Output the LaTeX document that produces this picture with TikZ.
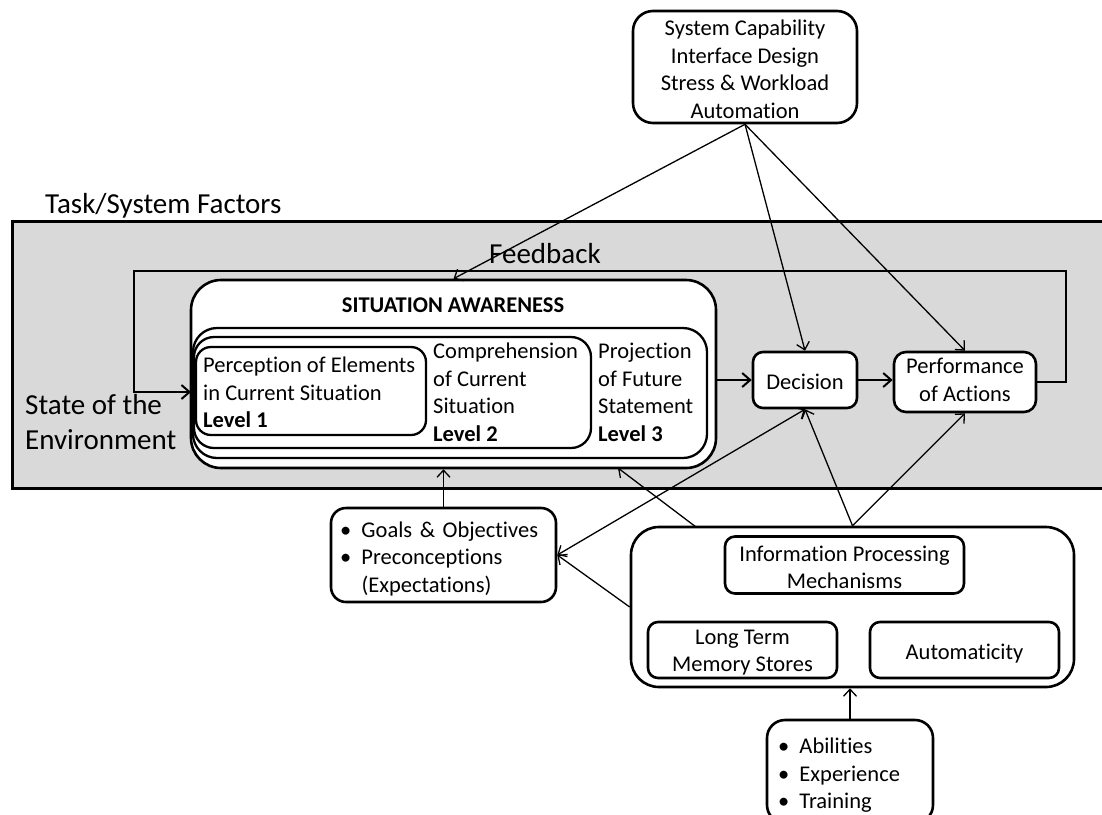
\documentclass[tikz,border=0pt]{standalone}
\usepackage{fontspec}
\setmainfont{Carlito}[Ligatures=NoCommon]
\usetikzlibrary{arrows.meta}
\definecolor{envgray}{RGB}{217,217,217}
\newcommand\fmid{\fontsize{22.5}{27.5}\selectfont}
\newcommand\fbig{\fontsize{29}{35}\selectfont}
\newcommand\bul{\makebox[21.5pt][l]{\textbullet}}
\newcommand\mystrut{\rule[-4pt]{0pt}{27.5pt}}
\begin{document}
\begin{tikzpicture}[x=1pt,y=-1pt,
  box/.style={draw=black, line width=2.6pt, fill=white, inner sep=0pt, font=\fmid, align=center,
    execute at begin node=\mystrut, execute at end node=\mystrut},
  lvlbox/.style={box, line width=2.3pt},
  txt/.style={inner sep=0pt, font=\fmid, align=left, anchor=north west,
    execute at begin node=\mystrut, execute at end node=\mystrut},
  ctxt/.style={inner sep=0pt, font=\fmid, align=center,
    execute at begin node=\mystrut, execute at end node=\mystrut},
  big/.style={inner sep=0pt, font=\fbig, align=left, anchor=north west,
    execute at begin node=\strut, execute at end node=\strut},
  lbl/.style={inner sep=0pt},
  conn/.style={line width=1.3pt, -{Straight Barb[length=7pt,width=13pt]}},
  bothconn/.style={line width=1.3pt, {Straight Barb[length=7pt,width=13pt]}-{Straight Barb[length=7pt,width=13pt]}},
  thickconn/.style={line width=2pt, -{Straight Barb[length=8pt,width=14pt]}},
]
\fill[white] (0,0) rectangle (1102,814);
\useasboundingbox (0,0) rectangle (1102,814);
\clip (0,0) rectangle (1102,814);

% top factors box
\node[box, rounded corners=20pt, minimum width=224pt, minimum height=112pt] (top) at (745,67) {};
\node[ctxt] (toptext) at (745,71)
  {System Capability\\Interface Design\\Stress \& Workload\\Automation};

\node[lbl, font=\fbig, anchor=base west] (task) at (45,213) {Task/System Factors};

% environment area
\node[draw=black, line width=3pt, fill=envgray, minimum width=1103pt, minimum height=267pt, inner sep=0pt] (env) at (563.5,354.5) {};

\node[lbl, font=\fbig, anchor=base west] (fbtext) at (489,263) {Feedback};
\node[big] (state) at (25,394.5) {State of the\\Environment};

\coordinate (fbR) at (1066,271);
\coordinate (fbL) at (134,271);
\coordinate (fbIn) at (191,392);

% situation awareness
\node[box, rounded corners=30pt, minimum width=525pt, minimum height=188pt] (sa) at (453.5,374) {};
\node[lvlbox, rounded corners=24pt, minimum width=514pt, minimum height=130pt] (l3) at (450,393) {};
\node[lvlbox, rounded corners=20pt, minimum width=397pt, minimum height=111pt] (l2) at (392.5,392.5) {};
\node[lvlbox, rounded corners=15pt, minimum width=230pt, minimum height=88pt] (l1) at (311,391) {};
\node[lbl, font=\fmid\bfseries] (satitle) at (453,305) {SITUATION AWARENESS};
\node[txt] (t1) at (203,357) {Perception of Elements\\in Current Situation\\\textbf{Level 1}};
\node[txt] (t2) at (433,343) {Comprehension\\of Current\\Situation\\\textbf{Level 2}};
\node[txt] (t3) at (598,343) {Projection\\of Future\\Statement\\\textbf{Level 3}};

\node[box, rounded corners=10pt, minimum width=104pt, minimum height=56pt] (dec) at (805,380) {Decision};
\node[box, rounded corners=12pt, minimum width=142pt, minimum height=60pt] (perf) at (965,382) {Performance\\of Actions};

% lower boxes
\node[box, rounded corners=15pt, minimum width=225pt, minimum height=94pt, align=left, text width=207pt] (goals) at (443.5,555)
  {\bul Goals \& Objectives\\\bul Preconceptions\\\hspace*{21.5pt}(Expectations)};
\node[box, rounded corners=28pt, minimum width=443pt, minimum height=160pt] (info) at (852.5,607) {};
\node[box, rounded corners=10pt, minimum width=239pt, minimum height=57pt] (ipm) at (844.5,565) {};
\node[ctxt] (ipmtext) at (844.5,569) {Information Processing\\Mechanisms};
\node[box, rounded corners=10pt, minimum width=189pt, minimum height=56pt] (ltm) at (742.5,650) {};
\node[ctxt] (ltmtext) at (742.5,653) {Long Term\\Memory Stores};
\node[box, rounded corners=10pt, minimum width=189pt, minimum height=56pt] (auto) at (964.5,650) {Automaticity};
\node[box, rounded corners=18pt, minimum width=166pt, minimum height=103pt, align=left, text width=144pt] (abil) at (850,771.5)
  {\bul Abilities\\\bul Experience\\\bul Training};

\coordinate (infoTL) at (696,527);
\coordinate (saB) at (618,468);

% connectors
\draw[thickconn] (perf.east) -| (fbR) -- (fbL) |- (fbIn);
\draw[conn] (top.south) -- (sa.north);
\draw[conn] (top.south) -- (dec.north);
\draw[conn] (top.south) -- (perf.north);
\draw[thickconn] (sa.east |- dec.west) -- (dec.west);
\draw[thickconn] (dec.east) -- (dec.east -| perf.west);
\draw[conn] (goals.north) -- (goals.north |- sa.south);
\draw[conn] (info.north) -- (dec.south);
\draw[conn] (info.north) -- (perf.south);
\draw[conn] (infoTL) -- (saB);
\draw[bothconn] (goals.east) -- (dec.south);
\draw[conn] (info.west) -- (goals.east);
\draw[conn] (abil.north) -- (abil.north |- info.south);
\end{tikzpicture}
\end{document}
